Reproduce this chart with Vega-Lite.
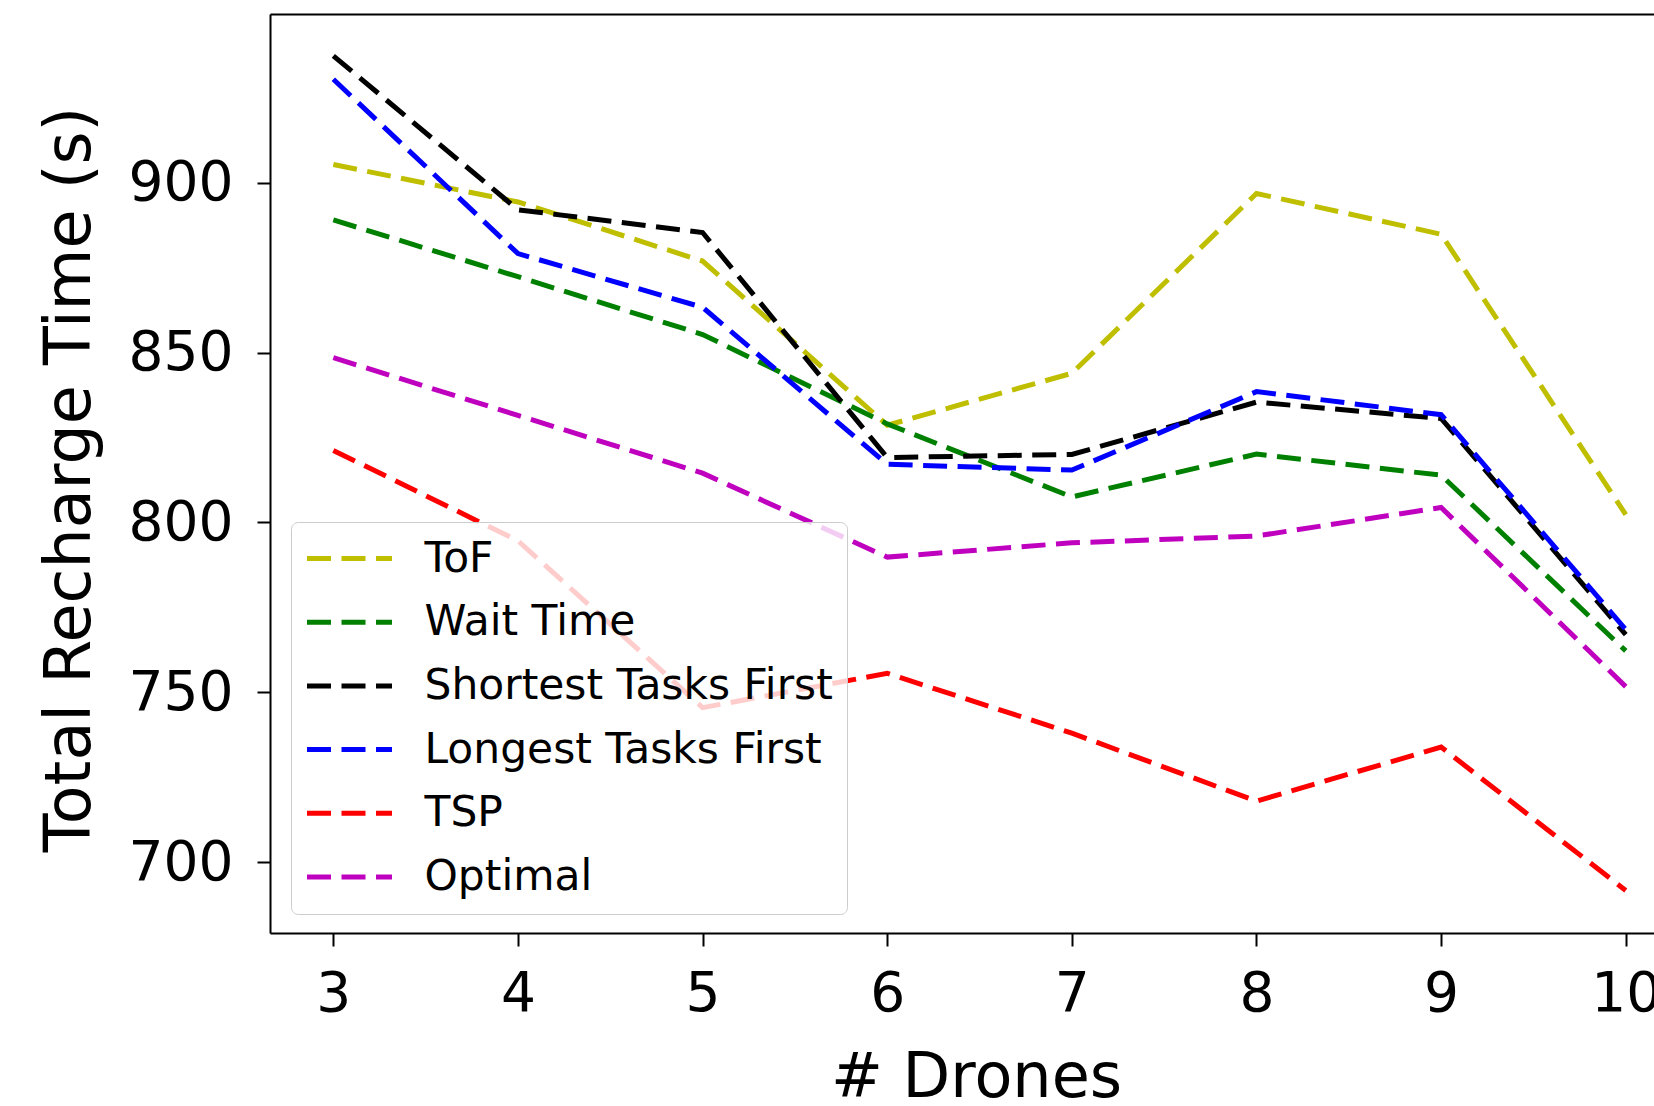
{
  "$schema": "https://vega.github.io/schema/vega-lite/v6.json",
  "autosize": {"type": "none"},
  "padding": {"left": 270, "top": 14, "right": 0, "bottom": 173},
  "width": 1384,
  "height": 919,
  "background": "white",
  "config": {
    "view": {"stroke": null},
    "axis": {
      "labelFont": "DejaVu Sans",
      "labelFontSize": 55,
      "labelColor": "#000000",
      "titleFont": "DejaVu Sans",
      "titleFontSize": 62,
      "titleFontWeight": "normal",
      "titleColor": "#000000",
      "domainColor": "#000000",
      "domainWidth": 2,
      "tickColor": "#000000",
      "tickWidth": 2,
      "tickSize": 13,
      "grid": false
    }
  },
  "data": {
    "values": [
      {"n": 3, "method": "ToF", "t": 905.3},
      {"n": 4, "method": "ToF", "t": 894.3},
      {"n": 5, "method": "ToF", "t": 876.9},
      {"n": 6, "method": "ToF", "t": 828.6},
      {"n": 7, "method": "ToF", "t": 843.9},
      {"n": 8, "method": "ToF", "t": 896.8},
      {"n": 9, "method": "ToF", "t": 884.8},
      {"n": 10, "method": "ToF", "t": 802.3},
      {"n": 3, "method": "Wait Time", "t": 889.0},
      {"n": 4, "method": "Wait Time", "t": 872.3},
      {"n": 5, "method": "Wait Time", "t": 855.3},
      {"n": 6, "method": "Wait Time", "t": 829.0},
      {"n": 7, "method": "Wait Time", "t": 807.5},
      {"n": 8, "method": "Wait Time", "t": 820.1},
      {"n": 9, "method": "Wait Time", "t": 813.9},
      {"n": 10, "method": "Wait Time", "t": 762.2},
      {"n": 3, "method": "Shortest Tasks First", "t": 937.3},
      {"n": 4, "method": "Shortest Tasks First", "t": 892.0},
      {"n": 5, "method": "Shortest Tasks First", "t": 885.3},
      {"n": 6, "method": "Shortest Tasks First", "t": 819.1},
      {"n": 7, "method": "Shortest Tasks First", "t": 820.0},
      {"n": 8, "method": "Shortest Tasks First", "t": 835.4},
      {"n": 9, "method": "Shortest Tasks First", "t": 830.6},
      {"n": 10, "method": "Shortest Tasks First", "t": 767.0},
      {"n": 3, "method": "Longest Tasks First", "t": 930.4},
      {"n": 4, "method": "Longest Tasks First", "t": 879.1},
      {"n": 5, "method": "Longest Tasks First", "t": 863.3},
      {"n": 6, "method": "Longest Tasks First", "t": 817.1},
      {"n": 7, "method": "Longest Tasks First", "t": 815.4},
      {"n": 8, "method": "Longest Tasks First", "t": 838.5},
      {"n": 9, "method": "Longest Tasks First", "t": 831.7},
      {"n": 10, "method": "Longest Tasks First", "t": 768.5},
      {"n": 3, "method": "TSP", "t": 821.2},
      {"n": 4, "method": "TSP", "t": 794.6},
      {"n": 5, "method": "TSP", "t": 745.5},
      {"n": 6, "method": "TSP", "t": 755.6},
      {"n": 7, "method": "TSP", "t": 738.0},
      {"n": 8, "method": "TSP", "t": 718.0},
      {"n": 9, "method": "TSP", "t": 733.9},
      {"n": 10, "method": "TSP", "t": 691.7},
      {"n": 3, "method": "Optimal", "t": 848.5},
      {"n": 4, "method": "Optimal", "t": 831.5},
      {"n": 5, "method": "Optimal", "t": 814.5},
      {"n": 6, "method": "Optimal", "t": 789.8},
      {"n": 7, "method": "Optimal", "t": 794.0},
      {"n": 8, "method": "Optimal", "t": 796.0},
      {"n": 9, "method": "Optimal", "t": 804.4},
      {"n": 10, "method": "Optimal", "t": 751.7}
    ]
  },
  "resolve": {"axis": {"x": "independent"}},
  "layer": [
    {
      "mark": {"type": "line", "strokeWidth": 5, "strokeDash": [24, 10.5], "clip": true},
      "encoding": {
        "x": {
          "field": "n", "type": "quantitative",
          "scale": {"domain": [2.657, 10.153], "nice": false, "zero": false},
          "axis": {
            "orient": "bottom",
            "values": [3, 4, 5, 6, 7, 8, 9, 10],
            "format": "d",
            "labelPadding": 21,
            "labelFlush": false,
            "labelOverlap": false,
            "title": "# Drones",
            "titleX": 706,
            "titleY": 163,
            "titleBaseline": "alphabetic",
            "titleAlign": "center"
          }
        },
        "y": {
          "field": "t", "type": "quantitative",
          "scale": {"domain": [679.2, 949.6], "nice": false, "zero": false},
          "axis": {
            "values": [700, 750, 800, 850, 900],
            "labelPadding": 24,
            "labelFlush": false,
            "labelOverlap": false,
            "title": "Total Recharge Time (s)",
            "titleFontSize": 63.5,
            "titleX": -181,
            "titleY": 465,
            "titleBaseline": "alphabetic",
            "titleAlign": "center",
            "titleAngle": -90
          }
        },
        "color": {
          "field": "method", "type": "nominal",
          "scale": {
            "domain": ["ToF", "Wait Time", "Shortest Tasks First", "Longest Tasks First", "TSP", "Optimal"],
            "range": ["#bfbf00", "#008000", "#000000", "#0000ff", "#ff0000", "#bf00bf"]
          },
          "legend": {
            "title": null,
            "orient": "none",
            "legendX": 21,
            "legendY": 508,
            "symbolType": "stroke",
            "symbolSize": 7225,
            "symbolStrokeWidth": 5,
            "symbolDash": [24, 10.5],
            "symbolOpacity": 1,
            "labelFont": "DejaVu Sans",
            "labelFontSize": 42.4,
            "labelColor": "#000000",
            "labelOffset": 30,
            "labelLimit": 0,
            "clipHeight": 46,
            "rowPadding": 17.7,
            "padding": 13.5,
            "strokeColor": "#cccccc",
            "fillColor": "rgba(255,255,255,0.8)",
            "cornerRadius": 7
          }
        }
      }
    },
    {
      "mark": {"type": "line", "opacity": 0},
      "encoding": {
        "x": {
          "field": "n", "type": "quantitative",
          "scale": {"domain": [2.657, 10.153], "nice": false, "zero": false},
          "axis": {"orient": "top", "labels": false, "ticks": false, "title": null, "domain": true}
        },
        "y": {
          "field": "t", "type": "quantitative",
          "scale": {"domain": [679.2, 949.6], "nice": false, "zero": false}
        },
        "detail": {"field": "method", "type": "nominal"}
      }
    }
  ]
}
